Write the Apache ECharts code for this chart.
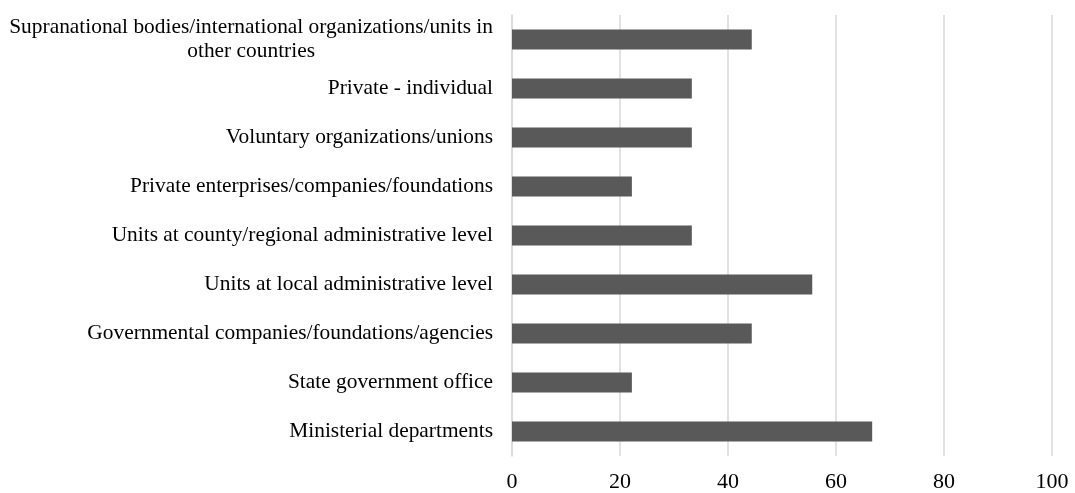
<!DOCTYPE html>
<html>
<head>
<meta charset="utf-8">
<script src="https://cdn.jsdelivr.net/npm/echarts@6/dist/echarts.min.js"></script>
<style>
  html, body { margin: 0; padding: 0; background: #fff; }
  #main { width: 1075px; height: 493px; }
</style>
</head>
<body>
<div id="main"></div>
<script>
// categories listed bottom to top
const categories = [
  'Ministerial departments',
  'State government office',
  'Governmental companies/foundations/agencies',
  'Units at local administrative level',
  'Units at county/regional administrative level',
  'Private enterprises/companies/foundations',
  'Voluntary organizations/unions',
  'Private - individual',
  'Supranational bodies/international organizations/units in\nother countries'
];
const values = [66.7, 22.2, 44.4, 55.6, 33.3, 22.2, 33.3, 33.3, 44.4];
const xTicks = [0, 20, 40, 60, 80, 100];

const chart = echarts.init(document.getElementById('main'));
chart.setOption({
  animation: false,
  textStyle: { fontFamily: 'Liberation Serif' },
  grid: { left: 512, right: 23, top: 15, bottom: 36 },
  xAxis: {
    type: 'value',
    min: xTicks[0],
    max: xTicks[xTicks.length - 1],
    interval: 20,
    axisLine: { show: false },
    axisTick: { show: false },
    splitLine: { lineStyle: { color: '#d9d9d9', width: 1.5 } },
    axisLabel: { fontFamily: 'Liberation Serif', fontSize: 22, color: '#000', margin: 15 }
  },
  yAxis: {
    type: 'category',
    data: categories,
    axisLine: { show: true, lineStyle: { color: '#d9d9d9', width: 1.5 } },
    axisTick: { show: false },
    axisLabel: {
      margin: 19,
      color: '#000',
      formatter: v => v.split('\n').map(s => '{a|' + s + '}').join('\n'),
      rich: { a: { fontFamily: 'Liberation Serif', fontSize: 21.4, color: '#000', align: 'center', lineHeight: 24 } }
    }
  },
  series: [{
    type: 'bar',
    data: values,
    barWidth: 20,
    itemStyle: { color: '#595959' }
  }]
});
</script>
</body>
</html>
